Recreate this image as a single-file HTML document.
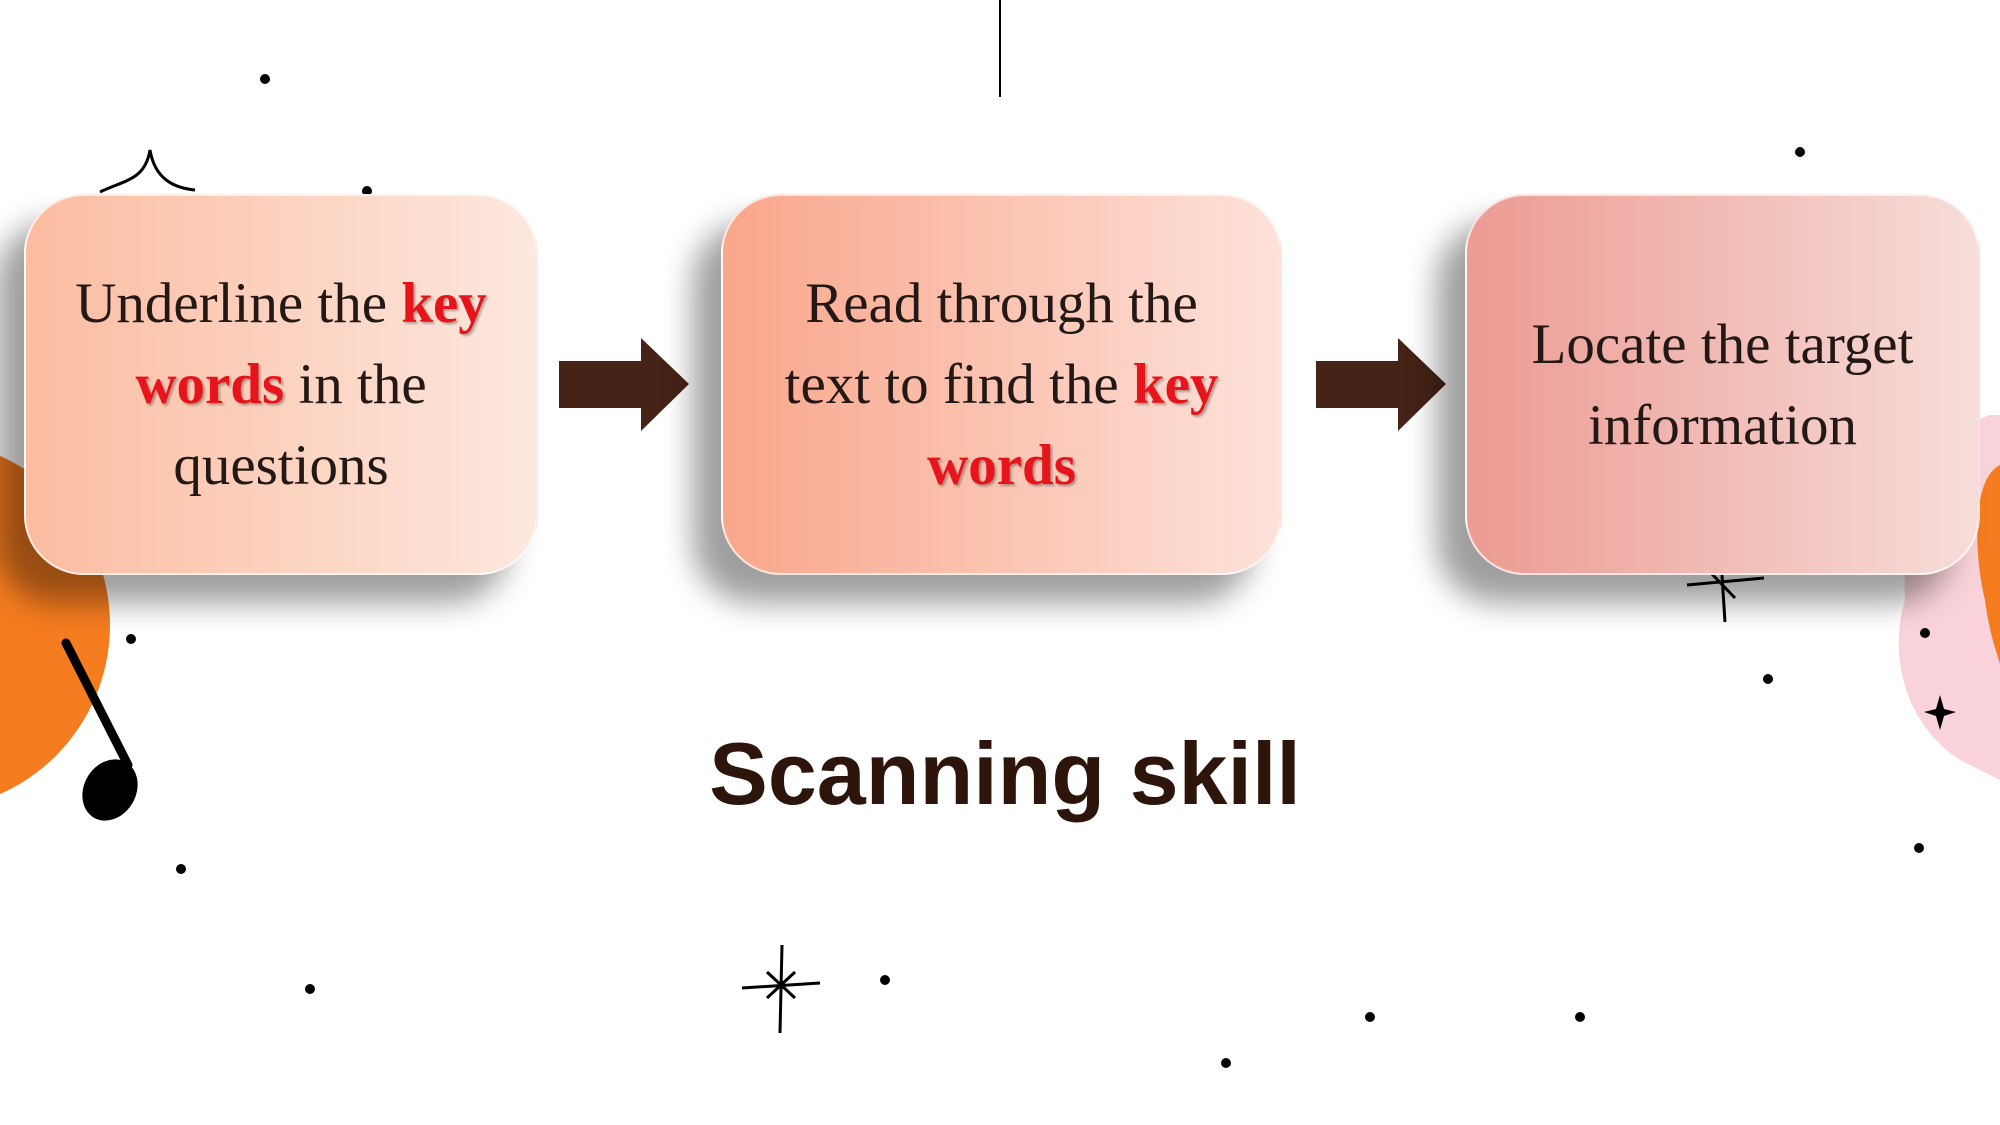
<!DOCTYPE html>
<html><head><meta charset="utf-8"><style>
html,body{margin:0;padding:0}
body{width:2000px;height:1125px;position:relative;overflow:hidden;background:#fff;font-family:"Liberation Sans",sans-serif}
.box{position:absolute;top:194px;height:381px;border-radius:60px;box-shadow:-28px 28px 30px rgba(0,0,0,.38);display:flex;align-items:center;justify-content:center;text-align:center;font-family:"Liberation Serif",serif;font-size:57px;line-height:81px;color:#231815;box-sizing:border-box;padding:0 10px;border:2px solid rgba(255,255,255,.7);white-space:nowrap}
.k{color:#e8141b;font-weight:bold;text-shadow:2px 2px 2px rgba(0,0,0,.3)}
.dot{position:absolute;width:10px;height:10px;border-radius:50%;background:#000}
</style></head><body>
<svg width="2000" height="1125" style="position:absolute;left:0;top:0">
<circle cx="-75" cy="625" r="185" fill="#f57c1f"/>
<path d="M1990 415 C1940 430 1900 520 1905 600 C1890 650 1900 720 1960 760 L2000 780 L2000 415Z" fill="#f9d3d9"/>
<path d="M2000 465 C1970 480 1975 560 1985 600 C1990 640 2000 660 2000 665Z" fill="#f57c1f"/>
<line x1="1000" y1="0" x2="1000" y2="97" stroke="#000" stroke-width="2"/>
<path d="M100 192 C125 180 145 180 150 150 C155 180 175 188 195 190" fill="none" stroke="#000" stroke-width="3"/>
<line x1="66" y1="643" x2="128" y2="765" stroke="#000" stroke-width="9" stroke-linecap="round"/>
<ellipse cx="110" cy="790" rx="26" ry="32" transform="rotate(30 110 790)" fill="#000"/>
<g stroke="#000" stroke-width="3" fill="none">
<path d="M742 988 L820 983 M782 945 L780 1033 M767 972 L795 998 M795 972 L767 998"/>
<path d="M1687 585 L1764 578 M1722 575 L1725 622 M1710 572 L1735 598"/>
</g>
<path d="M1940 695 L1944 709 L1956 712 L1944 716 L1940 730 L1936 716 L1924 712 L1936 709Z" fill="#000"/>
<path d="M559 361 L641 361 L641 338 L689 384 L641 431 L641 408 L559 408Z" fill="#452316"/>
<path d="M1316 361 L1398 361 L1398 338 L1446 384 L1398 431 L1398 408 L1316 408Z" fill="#452316"/>
</svg>
<div class="dot" style="left:260px;top:74px"></div>
<div class="dot" style="left:362px;top:186px"></div>
<div class="dot" style="left:126px;top:634px"></div>
<div class="dot" style="left:176px;top:864px"></div>
<div class="dot" style="left:305px;top:984px"></div>
<div class="dot" style="left:880px;top:975px"></div>
<div class="dot" style="left:1221px;top:1058px"></div>
<div class="dot" style="left:1365px;top:1012px"></div>
<div class="dot" style="left:1575px;top:1012px"></div>
<div class="dot" style="left:1795px;top:147px"></div>
<div class="dot" style="left:1763px;top:674px"></div>
<div class="dot" style="left:1920px;top:628px"></div>
<div class="dot" style="left:1914px;top:843px"></div>
<div class="box" style="left:24px;width:514px;background:linear-gradient(90deg,#fbbca1,#fde8de)">
<div>Underline the <span class="k">key</span><br><span class="k">words</span> in the<br>questions</div></div>
<div class="box" style="left:721px;width:561px;background:linear-gradient(90deg,#f9a68b,#fde2da)">
<div>Read through the<br>text to find the <span class="k">key</span><br><span class="k">words</span></div></div>
<div class="box" style="left:1465px;width:515px;background:linear-gradient(90deg,#ec9b93,#f7ddd9)">
<div>Locate the target<br>information</div></div>
<div style="position:absolute;left:0;width:2010px;top:724px;text-align:center;font-weight:bold;font-size:88px;line-height:100px;color:#2e150c">Scanning skill</div>
</body></html>
